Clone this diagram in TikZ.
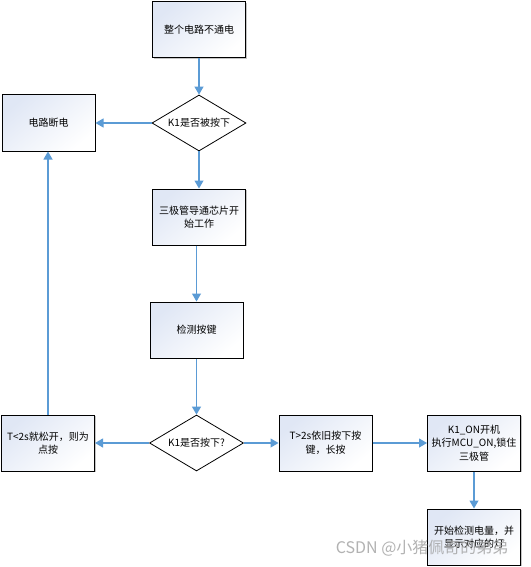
\documentclass[tikz,border=0pt]{standalone}
\usepackage{fontspec}
\setmainfont{Noto Sans CJK SC}
\usetikzlibrary{shapes.geometric,arrows.meta,shadows}
\definecolor{arrowblue}{RGB}{91,155,213}
\definecolor{boxblue}{RGB}{224,231,245}
\begin{document}
\begin{tikzpicture}[x=1pt,y=-1pt,
  font=\fontsize{10}{13.5}\selectfont,
  box/.style={rectangle,draw=black,line width=1pt,minimum width=93pt,minimum height=56pt,
    inner sep=2pt,align=center,top color=boxblue,bottom color=white,shading angle=40,
    drop shadow={shadow xshift=1pt,shadow yshift=-1pt,opacity=0.45,fill=gray}},
  dec/.style={diamond,draw=black,line width=0.8pt,minimum width=94pt,minimum height=56pt,
    inner sep=1pt,aspect=1.68,fill=white},
  arr/.style={draw=arrowblue,line width=1.1pt,-{Triangle[length=8pt,width=9pt]}}]
\useasboundingbox (0,0) rectangle (530,567);
\fill[white] (0,0) rectangle (530,567);

\node[box] (n1) at (199,30) {整个电路不通电};
\node[dec] (d1) at (199,123) {K1是否被按下};
\node[box] (off) at (48.5,123) {电路断电};
\node[box] (n3) at (199,217) {三极管导通芯片开\\始工作};
\node[box] (n4) at (196.5,330) {检测按键};
\node[dec] (d2) at (196.5,443) {K1是否按下?};
\node[box] (lft) at (48,443) {T<2s就松开，则为\\点按};
\node[box] (mid) at (325.5,443) {T>2s依旧按下按\\键，长按};
\node[box] (on) at (474,443) {K1\_ON开机\\执行MCU\_ON,锁住\\三极管};
\node[box] (bat) at (474,537) {开始检测电量，并\\显示对应的灯};

\draw[arr] (n1.south) -- (d1.north);
\draw[arr] (d1.west) -- (off.east);
\draw[arr] (d1.south) -- (n3.north);
\draw[arr] (n4.north |- n3.south) -- (n4.north);
\draw[arr] (n4.south) -- (d2.north);
\draw[arr] (d2.west) -- (lft.east);
\draw[arr] (d2.east) -- (mid.west);
\draw[arr] (mid.east) -- (on.west);
\draw[arr] (on.south) -- (bat.north);
\draw[arr] (lft.north) -- (lft.north |- off.south);

\node[text=gray!75,opacity=0.8,font=\fontsize{16}{18}\selectfont,anchor=east] (wm) at (512,548) {CSDN @小猪佩奇的弟弟};
\end{tikzpicture}
\end{document}
